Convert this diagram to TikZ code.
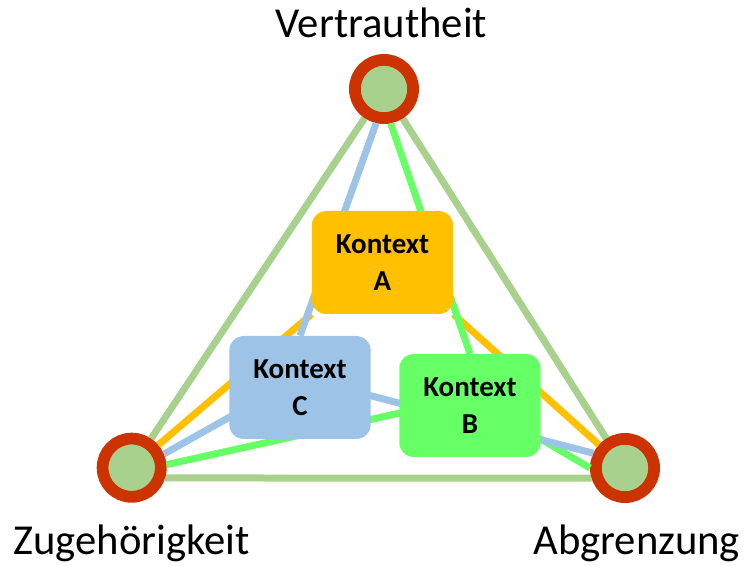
\documentclass[tikz,border=0pt]{standalone}
\usepackage{fontspec}
\setmainfont{Carlito}
\usepackage{tikz}
\usetikzlibrary{calc}
\definecolor{ringred}{RGB}{204, 51, 0}
\definecolor{polegreen}{RGB}{169, 209, 142}
\definecolor{ctxorange}{RGB}{255, 192, 0}
\definecolor{ctxblue}{RGB}{157, 195, 230}
\definecolor{ctxgreen}{RGB}{102, 255, 102}
\pgfdeclarelayer{edges}
\pgfdeclarelayer{links}
\pgfdeclarelayer{boxes}
\pgfsetlayers{edges,main,links,boxes}

\begin{document}
\begin{tikzpicture}[x=0.75pt, y=-0.75pt,
    pole/.style={circle, draw=ringred, fill=polegreen, line width=8.8pt, minimum size=43.7pt, inner sep=0pt},
    polename/.style={anchor=base, font=\fontsize{32}{38}\selectfont},
    kontext/.style={rounded corners=11pt, minimum width=106.1pt, minimum height=77.25pt, inner sep=0pt, align=center, font=\fontsize{21.7}{28}\selectfont\bfseries},
    link/.style={line width=5.25pt}]
  \path[use as bounding box] (0,0) rectangle (754,566);

  % Pole of the triangle
  \node[pole] (V) at (384,89) {};
  \node[pole] (Z) at (131.7,467.7) {};
  \node[pole] (Ab) at (625,468) {};
  \node[polename] (lv) at (381.5,37.3) {Vertrautheit};
  \node[polename] (lz) at (131.7,555) {Zugehörigkeit};
  \node[polename] (la) at (636.7,555) {Abgrenzung};

  % Kontexte
  \begin{pgfonlayer}{boxes}
    \node[kontext, fill=ctxorange] (A) at (382.5,262.5) {Kontext\\A};
    \node[kontext, fill=ctxblue] (C) at (300,387.5) {Kontext\\C};
    \node[kontext, fill=ctxgreen] (B) at (470,405.5) {Kontext\\B};
  \end{pgfonlayer}
  \coordinate (Bc) at ($(B.center)+(0,-8)$);
  \coordinate (Cc) at ($(C.center)+(0,-10)$);

  % Triangle
  \begin{pgfonlayer}{edges}
    \draw[link, polegreen] (V) -- (Z) (V) -- (Ab) (Z.-17) -- (Ab.-163);
  \end{pgfonlayer}

  % Links from each Kontext to the poles
  \begin{pgfonlayer}{links}
    \draw[link, ctxorange] (A.south west) -- (Z) (A.south east) -- (Ab);
    \draw[link, ctxgreen] (V.-79) -- (B.north) (Z.5) -- (Bc) (Bc) -- (Ab.180);
    \draw[link, ctxblue] (V.-103) -- (C.north) (Z.23) -- (Cc) (Cc) -- (Ab.155);
  \end{pgfonlayer}
\end{tikzpicture}
\end{document}
